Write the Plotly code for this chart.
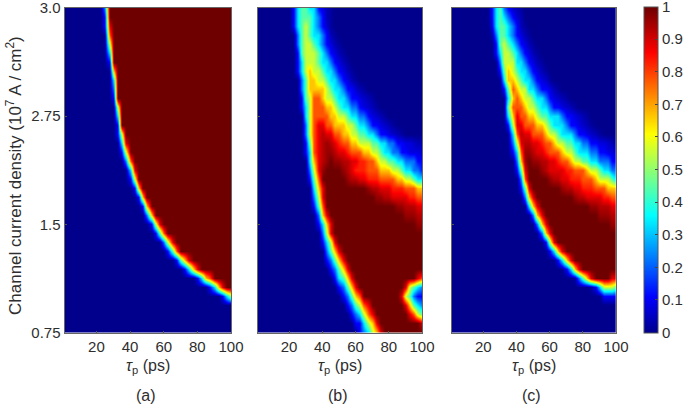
import plotly.graph_objects as go

W, H = 685, 406
tau_values = [2.5 * i for i in range(41)]
density_index = [k / 12 for k in range(37)]
x_ticks = [20, 40, 60, 80, 100]
y_tick_positions = [0, 1, 2, 3]
y_tick_labels = ["0.75", "1.5", "2.75", "3.0"]
bar_ticks = [i / 10 for i in range(11)]
bar_labels = ["0", "0.1", "0.2", "0.3", "0.4", "0.5", "0.6", "0.7", "0.8", "0.9", "1"]
panel_labels = ["(a)", "(b)", "(c)"]

# Each string is one picture row, top to bottom; each character is one cell, read by eye
# at 2.5 ps steps. A short string repeats its final character to the right edge.
level_of_char = {str(d): d / 9 for d in range(10)}
level_of_char.update({"a": 0.02, "b": 0.04, "c": 0.06, "d": 0.08, "o": 0.83, "x": 0.93, "y": 0.96})

panel_a = [
    "0000000000 29",
    "0000000000 19",
    "0000000000 189",
    "0000000000 079",
    "0000000000 059",
    "0000000000 039",
    "0000000000 019",
    "0000000000 0069",
    "0000000000 0039",
    "0000000000 0029",
    "0000000000 0019",
    "0000000000 00059",
    "0000000000 00039",
    "0000000000 00019",
    "0000000000 000159",
    "0000000000 0000389",
    "0000000000 0000159",
    "0000000000 00000279",
    "0000000000 000000389",
    "0000000000 000000159",
    "0000000000 0000000169",
    "0000000000 00000000169",
    "0000000000 000000000169",
    "0000000000 0000000000 269",
    "0000000000 0000000000 01589",
    "0000000000 0000000000 001479",
    "0000000000 0000000000 00002589",
    "0000000000 0000000000 000001479",
    "0000000000 0000000000 000000014689",
    "0000000000 0000000000 000000000 13689",
    "0000000000 0000000000 0000000000 0013679",
    "0000000000 0000000000 0000000000 00000136899",
    "0000000000 0000000000 0000000000 00000000135",
    "0", "0", "0", "0",
]

panel_b = [
    "0000000001 34433 1dba0",
    "0000000001 34443 21ba0",
    "0000000001 34543 21ca0",
    "0000000000 24543 321ba 0",
    "0000000000 24554 321db a0",
    "0000000000 14555 4321d ba0",
    "0000000000 13555 43321 dba0",
    "0000000000 13565 54332 1dba0",
    "0000000000 02466 55433 21dba 0",
    "0000000000 02466 66543 3211c ba0",
    "0000000000 01457 76554 33211 dcba0",
    "0000000000 01357 77665 43322 1dcba 0",
    "0000000000 00357 77766 55433 221dc ba0",
    "0000000000 00257 88776 66554 33211 dcba0",
    "0000000000 00257 8x887 76655 44332 11dcb a0",
    "0000000000 00147 8xyx8 o7766 55544 33221 1ddcb ba",
    "0000000000 00137 8xyyx 88o77 76655 43322 11ddd c",
    "0000000000 00036 8xy9y yxx88 oo776 55443 32221 1",
    "0000000000 00025 8y999 9yx8o oo777 66655 43322 1",
    "0000000000 00014 79999 99yxx 88ooo 77776 65543 3",
    "0000000000 00003 68999 99999 99yxx 888oo o7776 65",
    "0000000000 00002 58999 99999 9999y yxx88 88oo7 7",
    "0000000000 00001 47999 99999 99999 9999y yxxx8 8",
    "0000000000 00000 26899 99999 99999 99999 9yyyx x",
    "0000000000 00000 13689 99999 99999 99999 9999y y",
    "0000000000 00000 02589",
    "0000000000 00000 01358 9",
    "0000000000 00000 00246 89",
    "0000000000 00000 00124 689",
    "0000000000 00000 00012 4689",
    "0000000000 0000000001 34689 99999 99999 99998 7",
    "0000000000 0000000000 12468 99999 99999 98543 2",
    "0000000000 0000000000 01246 79999 99999 85421 1",
    "0000000000 0000000000 00124 57899 99999 98643 2",
    "0000000000 0000000000 00012 35789 99999 99875 4",
    "0000000000 0000000000 00001 13568 99999 99999 8",
    "0000000000 0000000000 00000 12356 89",
]

panel_c = [
    "0000000000 13421 cba00",
    "0000000000 13432 1cb00",
    "0000000000 d3443 21ba0",
    "0000000000 a2443 21dba 0",
    "0000000000 01454 321db a0",
    "0000000000 01355 4321d ba0",
    "0000000000 00255 53321 dba0",
    "0000000000 00146 54332 1dba0",
    "0000000000 00036 65433 21dca 0",
    "0000000000 00014 76553 3211d ba0",
    "0000000000 00003 67655 43321 dcba0",
    "0000000000 00004 77765 54332 11dcb a0",
    "0000000000 00003 68776 65443 33211 dcba0",
    "0000000000 00001 58877 76654 33321 1dcba 0",
    "0000000000 00000 37x88 77765 54333 211dc ba0",
    "0000000000 00000 258xx 88o77 65544 33221 1ddcb aa",
    "0000000000 00000 137yy x88o7 77655 43332 211dd c",
    "0000000000 00000 026y9 yyxx8 8o776 55443 32221 1",
    "0000000000 00000 01489 99yx8 888oo 77765 54332 21",
    "0000000000 00000 00279 9999y xx88o oo777 65554 33",
    "0000000000 00000 00148 99999 99yxx 88ooo 77766 65",
    "0000000000 00000 00026 89999 99999 yxx88 88oo7 7",
    "0000000000 00000 00003 68999 99999 9999y yxxx8 8",
    "0000000000 0000000000 26899 99999 99999 9yyyx x",
    "0000000000 0000000000 02689 99999 99999 9999y y",
    "0000000000 0000000000 00268 9",
    "0000000000 0000000000 00015 89",
    "0000000000 0000000000 00001 36899",
    "0000000000 0000000000 00000 01368 9",
    "0000000000 0000000000 00000 00013 689",
    "0000000000 0000000000 00000 00000 a2468 99998 8",
    "0000000000 0000000000 00000 00000 0000a 13555 4",
    "0000000000 0000000000 00000 00000 00000 00111 1",
    "0", "0", "0", "0",
]


def cells(rows):
    out = []
    for row in reversed(rows):
        s = row.replace(" ", "")
        s = s.ljust(41, s[-1])[:41]
        out.append([level_of_char[c] for c in s])
    return out


matlab_jet = [
    [0.0, "rgb(0,0,140)"], [0.11, "rgb(0,0,255)"], [0.36, "rgb(0,255,255)"],
    [0.61, "rgb(255,255,0)"], [0.86, "rgb(255,0,0)"], [1.0, "rgb(110,0,0)"],
]

FONT = "Liberation Sans, Arial, sans-serif"
TXT = "#2e2e2e"
boxes = [(64.5, 231), (257.5, 422), (451.7, 616)]
top, bottom = 8, 332.5

fig = go.Figure()
for n, (rows, box) in enumerate(zip([panel_a, panel_b, panel_c], boxes)):
    sfx = "" if n == 0 else str(n + 1)
    tr = dict(
        z=cells(rows), x=tau_values, y=density_index, zmin=0, zmax=1,
        colorscale=matlab_jet, zsmooth="best", xaxis="x" + sfx, yaxis="y" + sfx,
        showscale=n == 2,
    )
    if n == 2:
        tr["colorbar"] = dict(
            x=643.7 / W, xanchor="left", xpad=0, ypad=0, y=1 - 332.5 / H, yanchor="bottom",
            len=(332.5 - 7) / H, lenmode="fraction", thickness=14, thicknessmode="pixels",
            tickvals=bar_ticks, ticktext=bar_labels, ticks="inside", ticklen=3, tickcolor="#444",
            outlinecolor="#555", outlinewidth=1, ticklabeloverflow="allow",
            tickfont=dict(family=FONT, size=15, color=TXT),
        )
    fig.add_trace(go.Heatmap(**tr))
    fig.layout["xaxis" + sfx] = dict(
        domain=[box[0] / W, box[1] / W], range=[1, 100], anchor="y" + sfx, tickvals=x_ticks,
        ticks="inside", ticklen=2, tickcolor="#555", showline=True, mirror=True, linecolor="#666",
        linewidth=1, showgrid=False, zeroline=False, ticklabeloverflow="allow",
        tickfont=dict(family=FONT, size=15, color=TXT),
    )
    fig.layout["yaxis" + sfx] = dict(
        domain=[1 - bottom / H, 1 - top / H], range=[0, 3], anchor="x" + sfx,
        tickvals=y_tick_positions, ticktext=y_tick_labels if n == 0 else ["", "", "", ""],
        ticks="inside", ticklen=2, tickcolor="#555", showline=True, mirror=True, linecolor="#666",
        linewidth=1, showgrid=False, zeroline=False, ticklabeloverflow="allow",
        tickfont=dict(family=FONT, size=15, color=TXT),
    )
    cx = (box[0] + box[1]) / 2
    fig.add_annotation(
        text="<i>τ</i><sub>p</sub> (ps)", x=cx / W, y=1 - 366 / H, xref="paper", yref="paper",
        xanchor="center", yanchor="middle", showarrow=False,
        font=dict(family=FONT, size=16, color=TXT),
    )
    fig.add_annotation(
        text=panel_labels[n], x=(cx - 2) / W, y=1 - 395 / H, xref="paper", yref="paper",
        xanchor="center", yanchor="middle", showarrow=False,
        font=dict(family=FONT, size=16, color=TXT),
    )

fig.add_annotation(
    text="Channel current density (10<sup>7</sup> A / cm<sup>2</sup>)", x=14 / W, y=1 - 176 / H,
    xref="paper", yref="paper", xanchor="center", yanchor="middle", showarrow=False, textangle=-90,
    font=dict(family=FONT, size=17, color=TXT),
)
fig.update_layout(
    width=W, height=H, margin=dict(l=0, r=0, t=0, b=0, autoexpand=False), paper_bgcolor="white",
    plot_bgcolor="white", showlegend=False,
)
fig.write_html("out.html", post_script="document.body.style.margin='0';",
               config={"displayModeBar": False})
